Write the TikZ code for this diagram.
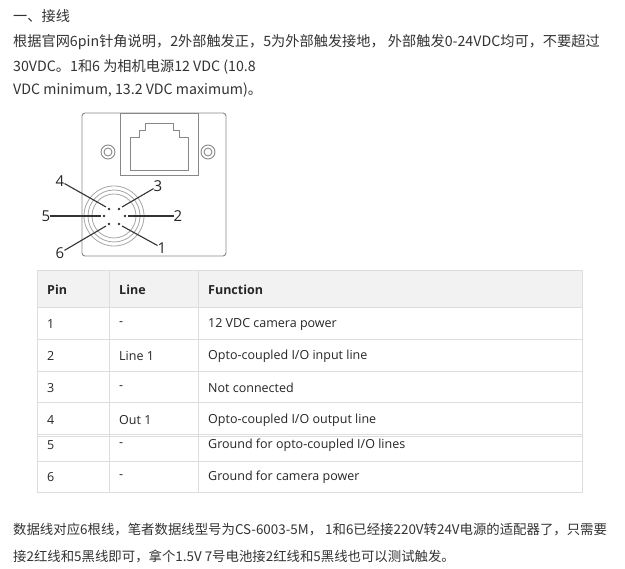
\documentclass[tikz,border=0pt]{standalone}
\usepackage{fontspec}
\usetikzlibrary{calc}
\setmainfont{Noto Sans CJK SC}
\newfontfamily\tabfont{Open Sans}
\definecolor{txt}{HTML}{333333}
\definecolor{grid}{HTML}{DDDDDD}
\definecolor{hdr}{HTML}{F2F2F2}
\definecolor{dr}{HTML}{555555}
\begin{document}
\begin{tikzpicture}[x=1pt,y=-1pt,
  para/.style={anchor=west,inner sep=0,text=txt,font=\fontsize{14.2}{16}\selectfont},
  cell/.style={anchor=west,inner sep=0,text=black!85,font=\tabfont\fontsize{12.5}{14}\selectfont},
  hcell/.style={anchor=west,inner sep=0,text=black!85,font=\tabfont\fontsize{12.5}{14}\selectfont\bfseries},
  pinlab/.style={inner sep=0,font=\tabfont\fontsize{15}{16}\selectfont,text=black!85},
  lead/.style={draw=black!80,line width=1.1pt},
  dr/.style={draw=dr!70,line width=0.9pt}]
\useasboundingbox[fill=white] (0,0) rectangle (625,569);
\node[para] (t1) at (13,16) {一、接线};
\node[para] (t2) at (13,42) {根据官网6pin针角说明，2外部触发正，5为外部触发接地， 外部触发0-24VDC均可，不要超过};
\node[para] (t3) at (13,67) {30VDC。1和6 为相机电源12 VDC (10.8};
\node[para] (t4) at (13,90) {VDC minimum, 13.2 VDC maximum)。};
% camera
\draw[dr,rounded corners=3] (82,113) rectangle (226,256);
\draw[dr] (120,113) rectangle (198,175);
\draw[dr] (130,170) -- (130,137) -- (139,137) -- (139,130) -- (145,130) -- (145,123) -- (173,123) -- (173,130) -- (179,130) -- (179,137) -- (188,137) -- (188,170) -- cycle;
\foreach \x in {108,208}{\draw[dr] (\x,152) circle (7); \draw[dr] (\x,152) circle (4);}
\draw[draw=black!35,line width=0.8pt] (114,216) circle (30) circle (26) circle (22);
\foreach \p/\q in {p4/{109,209},p3/{119,209},p5/{104,216},p2/{125,216},p6/{109,224},p1/{119,224}}
  \fill[black!80] (\q) circle (1.3) coordinate (\p);
\node[pinlab] (l4) at (60,181) {4};
\node[pinlab] (l3) at (158,186) {3};
\node[pinlab] (l5) at (46,216) {5};
\node[pinlab] (l2) at (178,216) {2};
\node[pinlab] (l6) at (60,253) {6};
\node[pinlab] (l1) at (162,248) {1};
\draw[lead] (l4) -- ($(p4)+(-3,-2)$);
\draw[lead] (l3) -- ($(p3)+(3,-2)$);
\draw[lead] (l5) -- ($(p5)+(-3,0)$);
\draw[lead] (l2) -- ($(p2)+(3,0)$);
\draw[lead] (l6) -- ($(p6)+(-3,2)$);
\draw[lead] (l1) -- ($(p1)+(3,2)$);
% table
\fill[hdr] (37,271) rectangle (582,308);
\draw[grid,line width=1pt] (37,271) rectangle (582,493);
\foreach \y in {308,340,372,403,435,437,462}{\draw[grid,line width=1pt] (37,\y) -- (582,\y);}
\draw[grid,line width=1pt] (109,271) -- (109,493);
\draw[grid,line width=1pt] (198,271) -- (198,493);
\node[hcell] (h1) at (47,290) {Pin};
\node[hcell] (h2) at (119,290) {Line};
\node[hcell] (h3) at (208,290) {Function};
\foreach \n/\y/\a/\b/\c in {r1/324/1/-/12 VDC camera power,r2/356/2/Line 1/{Opto-coupled I/O input line},r3/388/3/-/Not connected,r4/420/4/Out 1/{Opto-coupled I/O output line},r5/445/5/-/{Ground for opto-coupled I/O lines},r6/477/6/-/Ground for camera power}{
  \node[cell] (\n a) at (47,\y) {\a};
  \node[cell] (\n b) at (119,\y) {\b};
  \node[cell] (\n c) at (208,\y) {\c};}
\node[para,font=\fontsize{13.4}{16}\selectfont] (t5) at (13,530) {数据线对应6根线，笔者数据线型号为CS-6003-5M， 1和6已经接220V转24V电源的适配器了，只需要};
\node[para,font=\fontsize{13.4}{16}\selectfont] (t6) at (13,556) {接2红线和5黑线即可，拿个1.5V 7号电池接2红线和5黑线也可以测试触发。};
\end{tikzpicture}
\end{document}
